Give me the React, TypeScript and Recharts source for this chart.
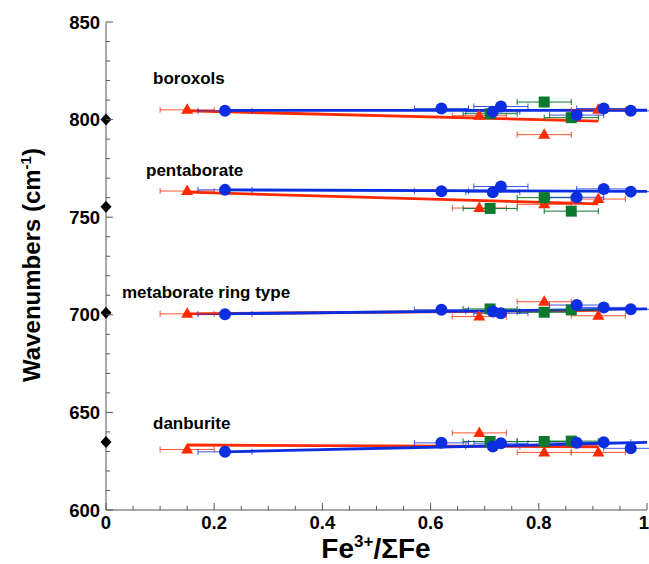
import React from 'react';
import { ComposedChart, Scatter, Line, XAxis, YAxis, ErrorBar } from 'recharts';

// ---- data ----
const groupNames = ['boroxols', 'pentaborate', 'metaborate ring type', 'danburite'];

const redX = [0.15, 0.69, 0.81, 0.91];
const redBoroxols = [805, 802, 792.3, 805];
const redPentaborate = [763.4, 754.7, 756.6, 759.3];
const redMetaborate = [700.5, 699.1, 706.7, 699.5];
const redDanburite = [631, 639.5, 629.5, 629.5];

const blueX = [0.22, 0.62, 0.715, 0.73, 0.87, 0.92, 0.97];
const blueBoroxols = [804.5, 805.7, 804, 806.7, 802.3, 805.7, 804.5];
const bluePentaborate = [764, 763.3, 762.8, 765.7, 760.2, 764.5, 763.1];
const blueMetaborate = [700.3, 702.6, 701.7, 700.8, 705, 703.8, 702.8];
const blueDanburite = [629.8, 634.4, 632.5, 634.2, 634.4, 634.7, 631.6];

const greenX = [0.71, 0.81, 0.86];
const greenBoroxols = [803, 809, 801];
const greenPentaborate = [754.5, 760, 753.1];
const greenMetaborate = [703, 701.3, 702.5];
const greenDanburite = [635.1, 635.1, 635.3];

const refX = [0, 0, 0, 0];
const refY = [800, 755.3, 701, 634.8];

const xError = 0.05;

const redFitX = [0.15, 0.91];
const redFitBoroxols = [804.5, 799.2];
const redFitPentaborate = [762.8, 756.8];
const redFitMetaborate = [700.5, 702.3];
const redFitDanburite = [633.3, 632.4];

const blueFitX = [0.22, 1.0];
const blueFitBoroxols = [804.7, 804.8];
const blueFitPentaborate = [764, 763.2];
const blueFitMetaborate = [700.5, 703];
const blueFitDanburite = [629.8, 634.6];

const xTicks = Array.from({ length: 21 }, (_, i) => i * 0.05);
const yTicks = Array.from({ length: 26 }, (_, i) => 600 + i * 10);

// ---- helpers ----
const pts = (xs: number[], ys: number[], err?: number) =>
  xs.map((x, i) => ({ x, y: ys[i], xErr: err ?? 0 }));

const RED = '#ff2a00';
const BLUE = '#0b2ee0';
const GREEN = '#0c7a2c';
const AXIS = '#555555';
const FONT = '"Liberation Sans", Arial, Helvetica, sans-serif';

const redSeries = [redBoroxols, redPentaborate, redMetaborate, redDanburite];
const blueSeries = [blueBoroxols, bluePentaborate, blueMetaborate, blueDanburite];
const greenSeries = [greenBoroxols, greenPentaborate, greenMetaborate, greenDanburite];
const redFits = [redFitBoroxols, redFitPentaborate, redFitMetaborate, redFitDanburite];
const blueFits = [blueFitBoroxols, blueFitPentaborate, blueFitMetaborate, blueFitDanburite];

const redData = redSeries.flatMap((ys) => pts(redX, ys, xError));
const blueData = blueSeries.flatMap((ys) => pts(blueX, ys, xError));
const greenData = greenSeries.flatMap((ys) => pts(greenX, ys, xError));
const refData = pts(refX, refY);

const circleShape = (p: any) => <circle cx={p.cx} cy={p.cy} r={6} fill={BLUE} />;
const squareShape = (p: any) => <rect x={p.cx - 5.5} y={p.cy - 5.5} width={11} height={11} fill={GREEN} />;
const triShape = (p: any) => (
  <polygon points={`${p.cx},${p.cy - 6.5} ${p.cx + 6},${p.cy + 4} ${p.cx - 6},${p.cy + 4}`} fill={RED} />
);
const diamondShape = (p: any) => (
  <polygon points={`${p.cx},${p.cy - 6} ${p.cx + 5.5},${p.cy} ${p.cx},${p.cy + 6} ${p.cx - 5.5},${p.cy}`} fill="#000" />
);

const LeftTick = (props: any) => {
  const { x, y, payload, index } = props;
  const major = index % 5 === 0;
  const ax = x + 6;
  return (
    <g>
      <line x1={ax} x2={ax + (major ? 7 : 4)} y1={y} y2={y} stroke={AXIS} strokeWidth={1} />
      {major && (
        <text x={x} y={y + 6.5} textAnchor="end" fontFamily={FONT} fontWeight="bold" fontSize={18.5} fill="#000">
          {payload.value}
        </text>
      )}
    </g>
  );
};
const RightTick = (props: any) => {
  const { x, y, index } = props;
  const major = index % 5 === 0;
  return <line x1={x} x2={x - (major ? 7 : 4)} y1={y} y2={y} stroke={AXIS} strokeWidth={1} />;
};
const BottomTick = (props: any) => {
  const { x, y, payload, index } = props;
  const major = index % 4 === 0;
  const v = payload.value;
  const label = v === 0 ? '0' : v === 1 ? '1' : v.toFixed(1);
  return (
    <g>
      <line x1={x} x2={x} y1={y} y2={y - (major ? 7 : 4)} stroke={AXIS} strokeWidth={1} />
      {major && (
        <text
          x={v === 1 ? x + 2 : x}
          y={y + 19}
          textAnchor={v === 1 ? 'end' : 'middle'}
          fontFamily={FONT}
          fontWeight="bold"
          fontSize={18.5}
          fill="#000"
        >
          {label}
        </text>
      )}
    </g>
  );
};
const TopTick = (props: any) => {
  const { x, y, index } = props;
  const major = index % 4 === 0;
  return <line x1={x} x2={x} y1={y} y2={y + (major ? 7 : 4)} stroke={AXIS} strokeWidth={1} />;
};

const labelPos = [
  { x: 153, y: 84 },
  { x: 146, y: 176 },
  { x: 122, y: 298 },
  { x: 153, y: 429 },
];

export default function App() {
  return (
    <div style={{ position: 'absolute', left: 0, top: 0, width: 649, height: 564, background: '#fff' }}>
      <ComposedChart width={649} height={564} margin={{ top: 22, right: 2, bottom: 0, left: 0 }}>
        <XAxis
          xAxisId="b"
          dataKey="x"
          type="number"
          domain={[0, 1]}
          ticks={xTicks}
          interval={0}
          allowDataOverflow
          height={54}
          tickSize={0}
          tickMargin={0}
          tickLine={false}
          axisLine={{ stroke: AXIS }}
          tick={BottomTick}
        />
        <XAxis
          xAxisId="t"
          dataKey="x"
          orientation="top"
          type="number"
          domain={[0, 1]}
          ticks={xTicks}
          interval={0}
          height={0}
          tickSize={0}
          tickMargin={0}
          tickLine={false}
          axisLine={{ stroke: AXIS }}
          tick={TopTick}
        />
        <YAxis
          yAxisId="l"
          dataKey="y"
          type="number"
          domain={[600, 850]}
          ticks={yTicks}
          interval={0}
          allowDataOverflow
          width={106}
          tickSize={0}
          tickMargin={6}
          tickLine={false}
          axisLine={{ stroke: AXIS }}
          tick={LeftTick}
        />
        <YAxis
          yAxisId="r"
          dataKey="y"
          orientation="right"
          type="number"
          domain={[600, 850]}
          ticks={yTicks}
          interval={0}
          width={0}
          tickSize={0}
          tickMargin={0}
          tickLine={false}
          axisLine={{ stroke: AXIS }}
          tick={RightTick}
        />

        {redFits.map((ys, i) => (
          <Line
            key={'rf' + i}
            xAxisId="b"
            yAxisId="l"
            data={pts(redFitX, ys)}
            dataKey="y"
            stroke={RED}
            strokeWidth={2.8}
            dot={false}
            activeDot={false}
            isAnimationActive={false}
          />
        ))}
        {blueFits.map((ys, i) => (
          <Line
            key={'bf' + i}
            xAxisId="b"
            yAxisId="l"
            data={pts(blueFitX, ys)}
            dataKey="y"
            stroke={BLUE}
            strokeWidth={2.8}
            dot={false}
            activeDot={false}
            isAnimationActive={false}
          />
        ))}

        <Scatter xAxisId="b" yAxisId="l" data={redData} shape={triShape} isAnimationActive={false}>
          <ErrorBar dataKey="xErr" direction="x" width={3} stroke={RED} strokeWidth={1} strokeOpacity={0.8} isAnimationActive={false} />
        </Scatter>
        <Scatter xAxisId="b" yAxisId="l" data={greenData} shape={squareShape} isAnimationActive={false}>
          <ErrorBar dataKey="xErr" direction="x" width={3} stroke={GREEN} strokeWidth={1} isAnimationActive={false} />
        </Scatter>
        <Scatter xAxisId="b" yAxisId="l" data={blueData} shape={circleShape} isAnimationActive={false}>
          <ErrorBar dataKey="xErr" direction="x" width={3} stroke={BLUE} strokeWidth={1} strokeOpacity={0.8} isAnimationActive={false} />
        </Scatter>
        <Scatter xAxisId="t" yAxisId="r" data={refData} shape={diamondShape} isAnimationActive={false} />
      </ComposedChart>

      <svg width={649} height={564} style={{ position: 'absolute', left: 0, top: 0, pointerEvents: 'none' }}>
        {groupNames.map((name, i) => (
          <text key={name} x={labelPos[i].x} y={labelPos[i].y} fontFamily={FONT} fontWeight="bold" fontSize={17} fill="#000">
            {name}
          </text>
        ))}
        <text transform="translate(40,265) rotate(-90)" textAnchor="middle" fontFamily={FONT} fontWeight="bold" fontSize={24} fill="#000">
          Wavenumbers (cm
          <tspan fontSize={15} dy={-9}>-1</tspan>
          <tspan dy={9}>)</tspan>
        </text>
        <text x={376} y={558} textAnchor="middle" fontFamily={FONT} fontWeight="bold" fontSize={28} fill="#000">
          Fe
          <tspan fontSize={17} dy={-11}>3+</tspan>
          <tspan dy={11}>/ΣFe</tspan>
        </text>
      </svg>
    </div>
  );
}
